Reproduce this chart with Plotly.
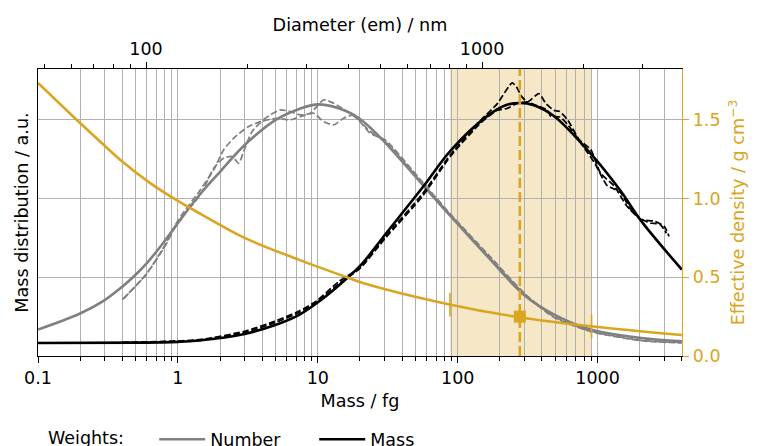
import math
import plotly.graph_objects as go

# ---------------- data ----------------
# Number-weighted fit (grey solid)
num_fit_mass = [0.1, 0.2, 0.3, 0.4, 0.49, 0.6, 0.78, 1.03, 1.4, 2.0, 3.0, 5.0, 7.3, 10.1,
                16.2, 21, 30.5, 56, 89, 163, 306, 489, 893, 2040, 4000]
num_fit_val = [0.168, 0.27, 0.355, 0.44, 0.51, 0.59, 0.715, 0.86, 1.015, 1.17, 1.34, 1.50, 1.568, 1.598,
               1.553, 1.491, 1.353, 1.089, 0.888, 0.633, 0.379, 0.263, 0.168, 0.114, 0.093]

# Number-weighted measurements (grey dashed, two samples)
num_a_mass = [0.40, 0.59, 0.80, 1.0, 1.445, 1.80, 2.12, 2.50, 3.20, 3.88, 4.57, 5.39, 6.36, 7.50,
              8.84, 11.0, 13.0, 16.2, 19.0, 23.7, 30.5, 56, 89, 163, 306, 489, 893, 2040, 4000]
num_a_val = [0.358, 0.517, 0.697, 0.86, 1.055, 1.182, 1.309, 1.383, 1.458, 1.489, 1.531, 1.563, 1.553, 1.531,
             1.542, 1.627, 1.605, 1.553, 1.510, 1.415, 1.37, 1.105, 0.90, 0.65, 0.39, 0.25, 0.158, 0.10, 0.085]
num_b_mass = [0.41, 0.59, 0.80, 1.0, 1.445, 1.80, 2.12, 2.44, 2.72, 2.95, 3.39, 3.99, 5.10, 6.36,
              7.50, 9.33, 11.0, 13.0, 15.3, 18.0, 21.2, 23.7, 30.5, 56, 89, 163, 306, 489, 893, 2040, 4000]
num_b_val = [0.365, 0.515, 0.69, 0.85, 1.023, 1.192, 1.256, 1.267, 1.224, 1.299, 1.426, 1.489, 1.510, 1.500,
             1.521, 1.542, 1.489, 1.468, 1.510, 1.531, 1.468, 1.426, 1.36, 1.095, 0.895, 0.64, 0.385, 0.245,
             0.155, 0.097, 0.083]

# Mass-weighted fit (black solid)
mass_fit_mass = [0.1, 0.5, 1.0, 1.4, 3.0, 4.9, 7.3, 9.8, 14, 20.2, 30.5, 56, 89, 163, 220, 280,
                 350, 489, 893, 1466, 2040, 4000]
mass_fit_val = [0.083, 0.085, 0.09, 0.098, 0.14, 0.195, 0.26, 0.335, 0.445, 0.575, 0.775, 1.07, 1.305, 1.525,
                1.593, 1.607, 1.593, 1.523, 1.285, 1.046, 0.86, 0.549]

# Mass-weighted measurements (black dashed, two samples)
mass_a_mass = [0.4, 1.0, 1.47, 3.0, 4.9, 7.3, 9.8, 14, 20.2, 30.5, 56, 89, 146, 192, 245, 263, 288, 316,
               380, 427, 489, 531, 610, 738, 893, 1047, 1318, 1622, 2042, 2541, 2992, 3236]
mass_a_val = [0.085, 0.095, 0.105, 0.157, 0.22, 0.284, 0.35, 0.47, 0.565, 0.76, 1.03, 1.28, 1.497, 1.603,
              1.735, 1.709, 1.646, 1.614, 1.667, 1.603, 1.56, 1.555, 1.50, 1.375, 1.311, 1.163, 1.078, 0.951,
              0.867, 0.856, 0.824, 0.76]
mass_b_mass = [0.4, 1.0, 1.47, 3.0, 4.9, 7.3, 9.8, 14, 20.2, 30.5, 56, 89, 146, 192, 225, 263, 316, 351,
               437, 462, 537, 610, 851, 960, 1100, 1175, 1320, 1466, 1726, 2042, 2377, 2800, 3100]
mass_b_val = [0.085, 0.093, 0.10, 0.15, 0.21, 0.275, 0.342, 0.455, 0.56, 0.75, 1.015, 1.27, 1.48, 1.561,
              1.572, 1.603, 1.614, 1.597, 1.561, 1.523, 1.518, 1.47, 1.29, 1.22, 1.12, 1.08, 1.06, 1.036,
              0.93, 0.87, 0.845, 0.835, 0.78]

# Effective density (orange, right axis)
density_mass = [0.1, 0.2, 0.3, 0.4, 0.63, 1.0, 1.47, 3.0, 7.3, 16.6, 21, 89, 267, 893, 4000]
density_val = [1.735, 1.48, 1.335, 1.235, 1.10, 0.985, 0.90, 0.75, 0.612, 0.496, 0.464, 0.326, 0.248, 0.189, 0.133]

density_median_mass = 278
density_median_val = 0.25
interval_mass = [88, 905]
interval_val = [0.326, 0.188]

# Tick labels
mass_ticks = [0.1, 1, 10, 100, 1000]
mass_tick_labels = ["0.1", "1", "10", "100", "1000"]
mass_minor = [m * k for m in (0.1, 1, 10, 100) for k in range(2, 10)] + [2000, 3000, 4000]
diam_ticks = [100, 1000]
diam_tick_labels = ["100", "1000"]
diam_minor = [50, 60, 70, 80, 90] + [k * 100 for k in range(2, 10)] + [2000, 3000]
left_grid = [0.5, 1, 1.5]
right_ticks = [0, 0.5, 1, 1.5]
right_tick_labels = ["0.0", "0.5", "1.0", "1.5"]

mass_range = [0.1, 4010]
diam_range = [47.7, 3935]
y_max = 1.823

# ---------------- styling ----------------
GOLD = "#DAA520"
GREY = "#808080"
GRID = "#b0b0b0"
FONT = "DejaVu Sans"
FS = 17.5
TFS = 17.6

fig = go.Figure()

dash_small = "6.5px,2.8px"
for xs, ys in [(num_a_mass, num_a_val), (num_b_mass, num_b_val)]:
    fig.add_trace(go.Scatter(x=xs, y=ys, mode="lines", line=dict(color=GREY, width=1.75, dash=dash_small,
                             shape="spline", smoothing=0.6), showlegend=False, hoverinfo="skip"))
fig.add_trace(go.Scatter(x=num_fit_mass, y=num_fit_val, mode="lines", name="Number",
                         line=dict(color=GREY, width=2.6, shape="spline", smoothing=1.0)))
for xs, ys in [(mass_a_mass, mass_a_val), (mass_b_mass, mass_b_val)]:
    fig.add_trace(go.Scatter(x=xs, y=ys, mode="lines", line=dict(color="black", width=1.75, dash=dash_small,
                             shape="spline", smoothing=0.6), showlegend=False, hoverinfo="skip"))
fig.add_trace(go.Scatter(x=mass_fit_mass, y=mass_fit_val, mode="lines", name="Mass",
                         line=dict(color="black", width=2.6, shape="spline", smoothing=1.0)))

# right-axis (density) traces
fig.add_trace(go.Scatter(x=density_mass, y=density_val, mode="lines", yaxis="y2", showlegend=False,
                         line=dict(color=GOLD, width=2.6, shape="spline", smoothing=1.0), hoverinfo="skip"))
fig.add_trace(go.Scatter(x=[density_median_mass, density_median_mass], y=[0, y_max], mode="lines",
                         yaxis="y2", showlegend=False, hoverinfo="skip",
                         line=dict(color=GOLD, width=2.6, dash="10px,4px")))
fig.add_trace(go.Scatter(x=interval_mass, y=interval_val, mode="markers", yaxis="y2", showlegend=False,
                         marker=dict(symbol="line-ns", size=17, line=dict(color=GOLD, width=1.6)),
                         hoverinfo="skip"))
fig.add_trace(go.Scatter(x=[density_median_mass], y=[density_median_val], mode="markers", yaxis="y2",
                         showlegend=False, marker=dict(symbol="square", size=12, color=GOLD), hoverinfo="skip"))
# anchor trace for the top (diameter) axis
fig.add_trace(go.Scatter(x=diam_range, y=[None, None], xaxis="x2", mode="lines", showlegend=False,
                         hoverinfo="skip"))

fig.add_shape(type="rect", xref="x", yref="paper", x0=interval_mass[0], x1=interval_mass[1], y0=0, y1=1,
              fillcolor="rgba(218,165,32,0.25)", line=dict(width=0), layer="below")

axis_common = dict(showline=True, linewidth=1.4, ticklen=6, tickwidth=1.4,
                   zeroline=False, tickfont=dict(family=FONT, size=FS))

fig.update_layout(
    width=760, height=446,
    margin=dict(l=38, r=78, t=69, b=90, autoexpand=False),
    paper_bgcolor="white", plot_bgcolor="white",
    font=dict(family=FONT, size=FS, color="black"),
    xaxis=dict(type="log", range=[math.log10(mass_range[0]), math.log10(mass_range[1])],
               tickmode="array", tickvals=mass_ticks, ticktext=mass_tick_labels, ticks="outside",
               linecolor="black", tickcolor="black",
               showgrid=True, gridcolor=GRID, gridwidth=1.3,
               minor=dict(tickmode="array", tickvals=mass_minor, ticks="outside", ticklen=3.5, tickwidth=1.1,
                          tickcolor="black", showgrid=True, gridcolor=GRID, gridwidth=1.3),
               title=dict(text="Mass / fg", standoff=7, font=dict(family=FONT, size=TFS)), **axis_common),
    xaxis2=dict(type="log", overlaying="x", side="top", anchor="y",
                range=[math.log10(diam_range[0]), math.log10(diam_range[1])],
                tickmode="array", tickvals=diam_ticks, ticktext=diam_tick_labels, ticks="outside",
                linecolor="black", tickcolor="black", showgrid=False, ticklabelstandoff=0,
                minor=dict(tickmode="array", tickvals=diam_minor, ticks="outside", ticklen=3.5, tickwidth=1.1,
                           tickcolor="black", showgrid=False),
                title=dict(text="Diameter (em) / nm", standoff=2, font=dict(family=FONT, size=TFS)),
                **axis_common),
    yaxis=dict(range=[0, y_max], tickmode="array", tickvals=left_grid, showticklabels=False, ticks="",
               linecolor="black", showgrid=True, gridcolor=GRID, gridwidth=1.3,
               title=dict(text="Mass distribution / a.u.", standoff=3, font=dict(family=FONT, size=TFS)),
               **axis_common),
    yaxis2=dict(range=[0, y_max], overlaying="y", side="right", anchor="x",
                tickmode="array", tickvals=right_ticks, ticktext=right_tick_labels, ticks="outside",
                linecolor=GOLD, tickcolor=GOLD, showgrid=False,
                title=dict(text="Effective density / g cm<sup>−3</sup>", standoff=12,
                           font=dict(family=FONT, color=GOLD, size=TFS)),
                **{**axis_common, "tickfont": dict(family=FONT, size=FS, color=GOLD)}),
    legend=dict(orientation="h", x=0.0124, xanchor="left", y=-0.228, yanchor="top",
                title=dict(text="Weights:\u00a0\u00a0\u00a0\u00a0", font=dict(size=FS)), font=dict(size=FS),
                itemwidth=46, entrywidth=99, bgcolor="rgba(0,0,0,0)"),
    showlegend=True,
)

fig.write_html("out.html", config={"displayModeBar": False},
               post_script="document.body.style.margin='0px';")
